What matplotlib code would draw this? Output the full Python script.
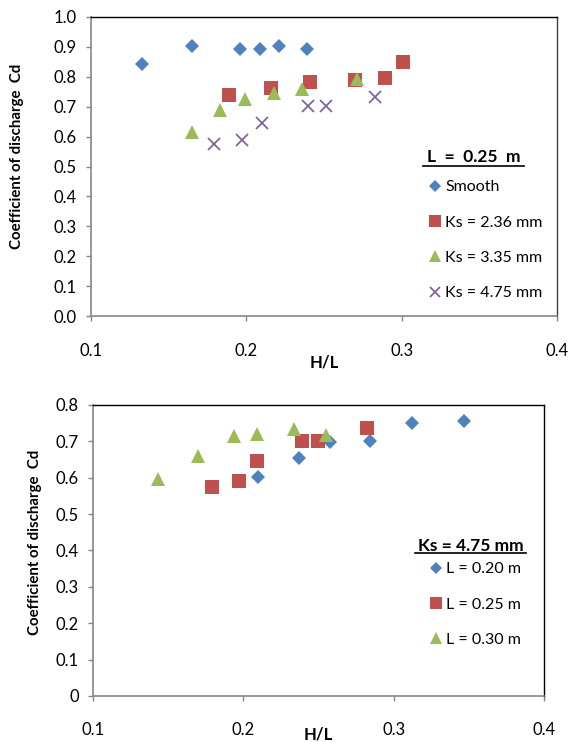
# ===== Step 1: Imports =====
import matplotlib
matplotlib.use("Agg")
import matplotlib.pyplot as plt
from matplotlib.lines import Line2D

plt.rcParams['font.family'] = ['Lato', 'DejaVu Sans']

# ===== Step 2: Data =====
# Top chart: L = 0.25 m, different roughness
smooth_x = [0.133, 0.165, 0.196, 0.209, 0.221, 0.239]
smooth_cd = [0.842, 0.904, 0.894, 0.894, 0.904, 0.894]
ks236_x = [0.189, 0.216, 0.241, 0.270, 0.289, 0.301]
ks236_cd = [0.738, 0.764, 0.782, 0.790, 0.797, 0.849]
ks335_x = [0.165, 0.183, 0.199, 0.218, 0.236, 0.271]
ks335_cd = [0.614, 0.688, 0.727, 0.747, 0.760, 0.793]
ks475_x = [0.179, 0.197, 0.210, 0.240, 0.251, 0.283]
ks475_cd = [0.576, 0.590, 0.647, 0.701, 0.702, 0.734]

# Bottom chart: Ks = 4.75 mm, different weir lengths
l20_x = [0.210, 0.237, 0.258, 0.284, 0.312, 0.347]
l20_cd = [0.601, 0.653, 0.697, 0.700, 0.751, 0.756]
l25_x = [0.179, 0.197, 0.209, 0.239, 0.250, 0.282]
l25_cd = [0.574, 0.590, 0.647, 0.702, 0.702, 0.736]
l30_x = [0.143, 0.170, 0.194, 0.209, 0.234, 0.255]
l30_cd = [0.596, 0.659, 0.714, 0.719, 0.734, 0.717]

x_ticks = [0.1, 0.2, 0.3, 0.4]
top_y_ticks = [0.0, 0.1, 0.2, 0.3, 0.4, 0.5, 0.6, 0.7, 0.8, 0.9, 1.0]
bot_y_ticks = [0.0, 0.1, 0.2, 0.3, 0.4, 0.5, 0.6, 0.7, 0.8]
bot_y_labels = ['0', '0.1', '0.2', '0.3', '0.4', '0.5', '0.6', '0.7', '0.8']

BLUE = '#4F81BD'
RED = '#C0504D'
GREEN = '#9BBB59'
PURPLE = '#8064A2'
GREY = '#868686'

# ===== Step 3: Figure and axes =====
fig = plt.figure(figsize=(5.69, 7.42), dpi=100)
ax1 = fig.add_axes([0.1599, 0.5741, 0.8190, 0.4030])
ax2 = fig.add_axes([0.1634, 0.0620, 0.7926, 0.3922])


def style_axes(ax, right_color):
    ax.spines['left'].set_color(GREY)
    ax.spines['bottom'].set_color(GREY)
    ax.spines['left'].set_linewidth(1.2)
    ax.spines['bottom'].set_linewidth(1.2)
    ax.spines['top'].set_color('black')
    ax.spines['top'].set_linewidth(1.0)
    ax.spines['right'].set_color(right_color)
    ax.spines['right'].set_linewidth(1.0)
    ax.tick_params(axis='both', direction='out', length=3.6, width=1.0,
                   color=GREY, labelsize=12, labelcolor='black')
    ax.tick_params(axis='y', pad=6.5)


# ===== Step 4: Top chart =====
ax1.plot(smooth_x, smooth_cd, 'D', color=BLUE, ms=6.8, mew=0, label='Smooth')
ax1.plot(ks236_x, ks236_cd, 's', color=RED, ms=9.8, mew=0, label='Ks = 2.36 mm')
ax1.plot(ks335_x, ks335_cd, '^', color=GREEN, ms=10, mew=0, label='Ks = 3.35 mm')
ax1.plot(ks475_x, ks475_cd, 'x', color=PURPLE, ms=9, mew=1.3, label='Ks = 4.75 mm')
ax1.set_xlim(0.1, 0.4)
ax1.set_ylim(0, 1.0)
ax1.set_xticks(x_ticks)
ax1.set_xticklabels(['0.1', '0.2', '0.3', '0.4'])
ax1.set_yticks(top_y_ticks)
ax1.set_yticklabels([f'{v:.1f}' for v in top_y_ticks])
style_axes(ax1, '#404040')
ax1.tick_params(axis='x', pad=16)
ax1.set_xlabel('H/L', fontsize=12, fontweight='bold')
ax1.xaxis.label.set_va('center')
ax1.xaxis.set_label_coords(0.5, -0.154)
ax1.set_ylabel('Coefficient of discharge  Cd', fontsize=10.8, fontweight='bold')
ax1.yaxis.label.set_va('center')
ax1.yaxis.set_label_coords(-0.158, 0.535)

ax1.legend(loc='upper left', bbox_to_anchor=(427 / 569, 1 - 180 / 742),
           bbox_transform=fig.transFigure, frameon=False, fontsize=11.5,
           borderpad=0, borderaxespad=0, handlelength=1.0, handletextpad=0.15,
           labelspacing=1.33, markerscale=0.85)
fig.text(473.5 / 569, 1 - 157.5 / 742, 'L  =  0.25  m', fontsize=12.5,
         fontweight='bold', ha='center', va='center')
fig.add_artist(Line2D([423 / 569, 524 / 569], [1 - 165.5 / 742, 1 - 165.5 / 742],
                      color='black', lw=1.2, transform=fig.transFigure))

# ===== Step 5: Bottom chart =====
ax2.plot(l20_x, l20_cd, 'D', color=BLUE, ms=6.8, mew=0, label='L = 0.20 m')
ax2.plot(l25_x, l25_cd, 's', color=RED, ms=9.5, mew=0, label='L = 0.25 m')
ax2.plot(l30_x, l30_cd, '^', color=GREEN, ms=9.5, mew=0, label='L = 0.30 m')
ax2.set_xlim(0.1, 0.4)
ax2.set_ylim(0, 0.8)
ax2.set_xticks(x_ticks)
ax2.set_xticklabels(['0.1', '0.2', '0.3', '0.4'])
ax2.set_yticks(bot_y_ticks)
ax2.set_yticklabels(bot_y_labels)
style_axes(ax2, 'black')
ax2.tick_params(axis='x', pad=15)
ax2.set_xlabel('H/L', fontsize=12, fontweight='bold')
ax2.xaxis.label.set_va('center')
ax2.xaxis.set_label_coords(0.5, -0.134)
ax2.set_ylabel('Coefficient of discharge  Cd', fontsize=10.8, fontweight='bold')
ax2.yaxis.label.set_va('center')
ax2.yaxis.set_label_coords(-0.128, 0.529)

ax2.legend(loc='upper left', bbox_to_anchor=(428 / 569, 1 - 562 / 742),
           bbox_transform=fig.transFigure, frameon=False, fontsize=11.5,
           borderpad=0, borderaxespad=0, handlelength=1.0, handletextpad=0.15,
           labelspacing=1.33, markerscale=0.85)
fig.text(470.5 / 569, 1 - 546 / 742, 'Ks = 4.75 mm', fontsize=12.5,
         fontweight='bold', ha='center', va='center')
fig.add_artist(Line2D([415 / 569, 526 / 569], [1 - 553 / 742, 1 - 553 / 742],
                      color='black', lw=1.2, transform=fig.transFigure))

# ===== Step 6: Save =====
fig.savefig('out.png', dpi=100)
